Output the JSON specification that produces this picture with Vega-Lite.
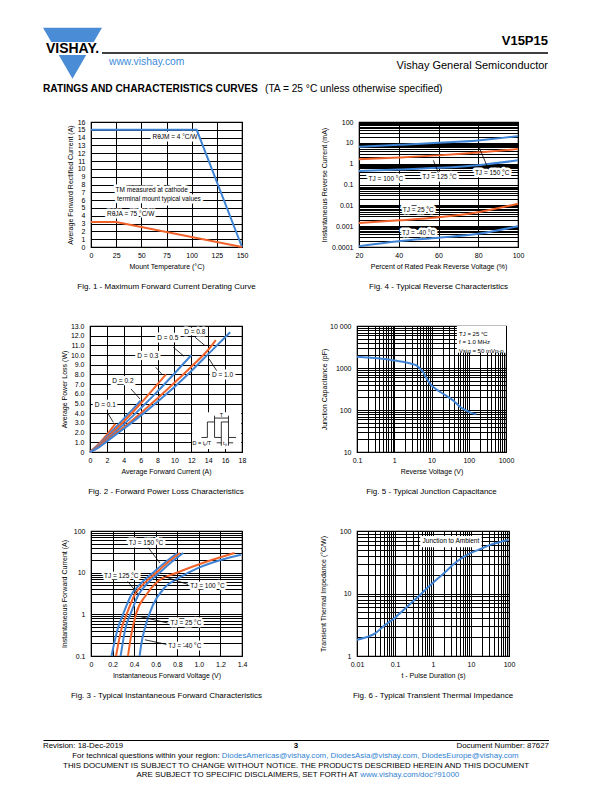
{
"$schema": "https://vega.github.io/schema/vega-lite/v6.json",
"background": "white",
"padding": {"left": 43, "top": 27, "right": 0, "bottom": 0},
"spacing": 23,
"bounds": "full",
"config": {
  "view": {"stroke": null},
  "font": "Liberation Sans",
  "axis": {"labelFont": "Liberation Sans", "titleFont": "Liberation Sans", "labelFontSize": 7, "titleFontSize": 7, "titleFontWeight": "normal", "labelColor": "black", "titleColor": "black", "ticks": false, "domain": false, "grid": true, "gridColor": "black", "gridWidth": 1, "gridOpacity": 1, "labelFlush": false, "labelOverlap": false, "labelBound": false},
  "axisX": {"labelPadding": 4, "titlePadding": 4},
  "axisY": {"labelPadding": 6},
  "title": {"font": "Liberation Sans", "color": "black", "fontWeight": "normal"},
  "text": {"font": "Liberation Sans", "color": "black"}
},
"datasets": {
  "fig1_curves": [
    {"series": "4 °C/W", "x": 0, "y": 15}, {"series": "4 °C/W", "x": 105, "y": 15}, {"series": "4 °C/W", "x": 150, "y": 0},
    {"series": "75 °C/W", "x": 0, "y": 3.2}, {"series": "75 °C/W", "x": 25, "y": 3.2}, {"series": "75 °C/W", "x": 150, "y": 0}
  ],
  "fig1_labels": [
    {"label": "RθJM = 4 °C/W", "x": 83.4, "y": 14.05},
    {"label": "TM measured at cathode", "x": 60.3, "y": 7.3},
    {"label": "terminal mount typical values", "x": 67.5, "y": 6.1},
    {"label": "RθJA = 75 °C/W", "x": 39.4, "y": 4.22}
  ],
  "fig4_curves": [
    {"series": "150", "x": 20, "y": 6.5}, {"series": "150", "x": 40, "y": 8}, {"series": "150", "x": 60, "y": 10}, {"series": "150", "x": 80, "y": 13}, {"series": "150", "x": 100, "y": 21},
    {"series": "125", "x": 20, "y": 1.65}, {"series": "125", "x": 40, "y": 2.0}, {"series": "125", "x": 60, "y": 2.5}, {"series": "125", "x": 80, "y": 3.4}, {"series": "125", "x": 100, "y": 5.0},
    {"series": "100", "x": 20, "y": 0.45}, {"series": "100", "x": 40, "y": 0.52}, {"series": "100", "x": 60, "y": 0.63}, {"series": "100", "x": 80, "y": 0.85}, {"series": "100", "x": 100, "y": 1.45},
    {"series": "25", "x": 20, "y": 0.0014}, {"series": "25", "x": 40, "y": 0.0019}, {"series": "25", "x": 60, "y": 0.0027}, {"series": "25", "x": 80, "y": 0.0047}, {"series": "25", "x": 100, "y": 0.012},
    {"series": "-40", "x": 20, "y": 0.00011}, {"series": "-40", "x": 40, "y": 0.00019}, {"series": "-40", "x": 60, "y": 0.00028}, {"series": "-40", "x": 80, "y": 0.00043}, {"series": "-40", "x": 100, "y": 0.001}
  ],
  "fig4_labels": [
    {"label": "TJ = 100 °C", "x": 33.5, "y": 0.19},
    {"label": "TJ = 125 °C", "x": 60.5, "y": 0.22},
    {"label": "TJ = 150 °C", "x": 87, "y": 0.35},
    {"label": "TJ = 25 °C", "x": 49.8, "y": 0.006},
    {"label": "TJ = -40 °C", "x": 50, "y": 0.00045}
  ],
  "fig4_arrows": [
    {"x": 59.9, "y": 0.37, "x2": 57.4, "y2": 1.44},
    {"x": 85.1, "y": 0.54, "x2": 80.4, "y2": 6.3}
  ],
  "fig2_curves": [
    {"series": "0.1", "x": 0, "y": 0}, {"series": "0.1", "x": 1, "y": 0.8}, {"series": "0.1", "x": 2, "y": 1.8}, {"series": "0.1", "x": 3, "y": 2.9},
    {"series": "0.2", "x": 0, "y": 0}, {"series": "0.2", "x": 1, "y": 0.7}, {"series": "0.2", "x": 2, "y": 1.6}, {"series": "0.2", "x": 3, "y": 2.5}, {"series": "0.2", "x": 4, "y": 3.45}, {"series": "0.2", "x": 5, "y": 4.35}, {"series": "0.2", "x": 6, "y": 5.3},
    {"series": "0.3", "x": 0, "y": 0}, {"series": "0.3", "x": 1, "y": 0.62}, {"series": "0.3", "x": 2, "y": 1.45}, {"series": "0.3", "x": 4, "y": 3.15}, {"series": "0.3", "x": 6, "y": 5.0}, {"series": "0.3", "x": 8, "y": 7.0}, {"series": "0.3", "x": 9, "y": 8.0},
    {"series": "0.5", "x": 0, "y": 0}, {"series": "0.5", "x": 1, "y": 0.55}, {"series": "0.5", "x": 2, "y": 1.3}, {"series": "0.5", "x": 4, "y": 2.85}, {"series": "0.5", "x": 6, "y": 4.5}, {"series": "0.5", "x": 8, "y": 6.25}, {"series": "0.5", "x": 10, "y": 8.1}, {"series": "0.5", "x": 12, "y": 10.0},
    {"series": "0.8", "x": 0, "y": 0}, {"series": "0.8", "x": 1, "y": 0.5}, {"series": "0.8", "x": 2, "y": 1.2}, {"series": "0.8", "x": 4, "y": 2.55}, {"series": "0.8", "x": 6, "y": 4.0}, {"series": "0.8", "x": 8, "y": 5.55}, {"series": "0.8", "x": 10, "y": 7.15}, {"series": "0.8", "x": 12, "y": 8.8}, {"series": "0.8", "x": 14, "y": 10.55}, {"series": "0.8", "x": 14.9, "y": 11.55},
    {"series": "1.0", "x": 0, "y": 0}, {"series": "1.0", "x": 1, "y": 0.45}, {"series": "1.0", "x": 2, "y": 1.1}, {"series": "1.0", "x": 4, "y": 2.4}, {"series": "1.0", "x": 6, "y": 3.75}, {"series": "1.0", "x": 8, "y": 5.2}, {"series": "1.0", "x": 10, "y": 6.7}, {"series": "1.0", "x": 12, "y": 8.35}, {"series": "1.0", "x": 14, "y": 10.1}, {"series": "1.0", "x": 16.6, "y": 12.35}
  ],
  "fig2_labels": [
    {"label": "D = 0.1", "x": 1.8, "y": 4.8},
    {"label": "D = 0.2", "x": 3.9, "y": 7.3},
    {"label": "D = 0.3", "x": 6.85, "y": 9.9},
    {"label": "D = 0.5", "x": 9.2, "y": 11.76},
    {"label": "D = 0.8", "x": 12.4, "y": 12.35},
    {"label": "D = 1.0", "x": 15.7, "y": 7.95}
  ],
  "fig2_arrows": [
    {"x": 2.17, "y": 3.92, "x2": 2.76, "y2": 3.06},
    {"x": 4.86, "y": 6.5, "x2": 5.92, "y2": 5.47},
    {"x": 7.78, "y": 8.74, "x2": 8.49, "y2": 8.05},
    {"x": 9.87, "y": 10.8, "x2": 11.14, "y2": 9.88},
    {"x": 12.44, "y": 11.84, "x2": 13.63, "y2": 10.97},
    {"x": 15.0, "y": 8.39, "x2": 14.1, "y2": 9.6},
    {"x": 14.75, "y": 3.5, "x2": 16.4, "y2": 3.5},
    {"x": 14.75, "y": 3.1, "x2": 14.75, "y2": 3.75},
    {"x": 16.4, "y": 3.1, "x2": 16.4, "y2": 3.75},
    {"x": 15.0, "y": 0.95, "x2": 15.55, "y2": 0.95},
    {"x": 16.95, "y": 0.95, "x2": 16.4, "y2": 0.95},
    {"x": 15.55, "y": 1.5, "x2": 15.55, "y2": 0.65},
    {"x": 16.4, "y": 1.5, "x2": 16.4, "y2": 0.65}
  ],
  "fig2_box": [{"x": 12.1, "y": 0.3, "x2": 17.9, "y2": 4.1}],
  "fig2_wave": [
    {"k": 1, "x": 13.2, "y": 1.5}, {"k": 2, "x": 13.9, "y": 1.5}, {"k": 3, "x": 13.9, "y": 3.1}, {"k": 4, "x": 14.75, "y": 3.1}, {"k": 5, "x": 14.75, "y": 1.5},
    {"k": 6, "x": 15.55, "y": 1.5}, {"k": 7, "x": 15.55, "y": 3.1}, {"k": 8, "x": 16.4, "y": 3.1}, {"k": 9, "x": 16.4, "y": 1.5}, {"k": 10, "x": 17.3, "y": 1.5}
  ],
  "fig2_inset_text": [
    {"label": "T", "x": 15.57, "y": 3.85},
    {"label": "tₚ", "x": 15.97, "y": 0.95},
    {"label": "D = tₚ/T", "x": 13.25, "y": 0.95}
  ],
  "fig5_curve": [
    {"x": 0.1, "y": 1860}, {"x": 0.2, "y": 1780}, {"x": 0.4, "y": 1680}, {"x": 0.63, "y": 1620}, {"x": 1, "y": 1500}, {"x": 2, "y": 1360}, {"x": 3, "y": 1250}, {"x": 4, "y": 1140}, {"x": 5, "y": 950}, {"x": 6, "y": 790}, {"x": 7.4, "y": 560}, {"x": 9.2, "y": 420}, {"x": 13.8, "y": 305}, {"x": 21, "y": 240}, {"x": 39, "y": 166}, {"x": 58, "y": 120}, {"x": 89, "y": 95}, {"x": 133, "y": 82}, {"x": 160, "y": 80}
  ],
  "fig5_box": [{"x": 48, "y": 2300, "x2": 1000, "y2": 10000}],
  "fig5_text": [
    {"label": "TJ = 25 °C", "x": 55, "y": 6450},
    {"label": "f = 1.0 MHz", "x": 55, "y": 4100},
    {"label": "Vsig = 50 mVp-p", "x": 55, "y": 2580}
  ],
  "fig3_curves": [
    {"series": "150", "x": 0.19, "y": 0.1}, {"series": "150", "x": 0.25, "y": 0.47}, {"series": "150", "x": 0.297, "y": 1.0}, {"series": "150", "x": 0.374, "y": 2.96}, {"series": "150", "x": 0.466, "y": 5.6}, {"series": "150", "x": 0.575, "y": 10}, {"series": "150", "x": 0.70, "y": 18.7}, {"series": "150", "x": 0.80, "y": 29.6},
    {"series": "125", "x": 0.232, "y": 0.1}, {"series": "125", "x": 0.285, "y": 0.47}, {"series": "125", "x": 0.33, "y": 1.0}, {"series": "125", "x": 0.405, "y": 2.96}, {"series": "125", "x": 0.495, "y": 5.6}, {"series": "125", "x": 0.605, "y": 10}, {"series": "125", "x": 0.725, "y": 18.7}, {"series": "125", "x": 0.825, "y": 29.6},
    {"series": "100", "x": 0.275, "y": 0.1}, {"series": "100", "x": 0.32, "y": 0.47}, {"series": "100", "x": 0.365, "y": 1.0}, {"series": "100", "x": 0.44, "y": 2.96}, {"series": "100", "x": 0.525, "y": 5.6}, {"series": "100", "x": 0.635, "y": 10}, {"series": "100", "x": 0.755, "y": 18.7}, {"series": "100", "x": 0.855, "y": 29.6},
    {"series": "25", "x": 0.343, "y": 0.1}, {"series": "25", "x": 0.374, "y": 0.33}, {"series": "25", "x": 0.42, "y": 1.07}, {"series": "25", "x": 0.513, "y": 2.96}, {"series": "25", "x": 0.62, "y": 6.2}, {"series": "25", "x": 0.79, "y": 9.8}, {"series": "25", "x": 0.99, "y": 15.5}, {"series": "25", "x": 1.33, "y": 29.6},
    {"series": "-40", "x": 0.451, "y": 0.1}, {"series": "-40", "x": 0.466, "y": 0.19}, {"series": "-40", "x": 0.50, "y": 0.47}, {"series": "-40", "x": 0.575, "y": 1.7}, {"series": "-40", "x": 0.68, "y": 4.3}, {"series": "-40", "x": 0.81, "y": 7.4}, {"series": "-40", "x": 0.99, "y": 12.9}, {"series": "-40", "x": 1.21, "y": 20.5}, {"series": "-40", "x": 1.39, "y": 27}
  ],
  "fig3_labels": [
    {"label": "TJ = 150 °C", "x": 0.51, "y": 51},
    {"label": "TJ = 125 °C", "x": 0.28, "y": 8.2},
    {"label": "TJ = 100 °C", "x": 1.08, "y": 4.7},
    {"label": "TJ = 25 °C", "x": 0.88, "y": 0.62},
    {"label": "TJ = -40 °C", "x": 0.87, "y": 0.17}
  ],
  "fig3_arrows": [
    {"x": 0.53, "y": 40, "x2": 0.64, "y2": 17},
    {"x": 0.34, "y": 6.2, "x2": 0.44, "y2": 2.96},
    {"x": 0.90, "y": 5.2, "x2": 0.67, "y2": 8.2},
    {"x": 0.71, "y": 0.62, "x2": 0.45, "y2": 0.89},
    {"x": 0.70, "y": 0.19, "x2": 0.50, "y2": 0.245}
  ],
  "fig6_curve": [
    {"x": 0.01, "y": 1.82}, {"x": 0.02, "y": 2.05}, {"x": 0.03, "y": 2.3}, {"x": 0.05, "y": 3.0}, {"x": 0.1, "y": 4.1}, {"x": 0.2, "y": 6.0}, {"x": 0.3, "y": 7.5}, {"x": 0.5, "y": 10}, {"x": 1, "y": 14.8}, {"x": 2, "y": 21.5}, {"x": 3.4, "y": 29}, {"x": 5, "y": 35}, {"x": 9.4, "y": 44}, {"x": 20, "y": 53}, {"x": 32, "y": 60}, {"x": 60, "y": 67}, {"x": 96, "y": 72}
  ],
  "fig6_box": [{"x": 0.46, "y": 55, "x2": 19, "y2": 83}],
  "fig6_text": [{"label": "Junction to Ambient", "x": 2.96, "y": 69}]
},
"vconcat": [
  {
    "hconcat": [
      {
        "width": 59, "height": 41,
        "title": {"text": "RATINGS AND CHARACTERISTICS CURVES", "orient": "bottom", "anchor": "start", "frame": "group", "fontSize": 10.2, "fontWeight": "bold", "offset": 5},
        "data": {"values": [{"name": "VISHAY."}]},
        "layer": [
          {"mark": {"type": "point", "shape": "M-1,-0.706L1,-0.706L0.719,-0.22L-0.719,-0.22ZM-0.465,0.22L0.465,0.22L0,1.026Z", "size": 3481, "filled": true, "color": "#4a8cd6", "opacity": 1, "strokeWidth": 0}, "encoding": {}},
          {"mark": {"type": "text", "fontSize": 14, "fontWeight": "bold", "color": "black", "baseline": "middle", "align": "center"}, "encoding": {"text": {"field": "name"}}}
        ]
      },
      {
        "width": 446, "height": 50,
        "title": {"text": "(TA = 25 °C unless otherwise specified)", "orient": "bottom", "anchor": "start", "frame": "group", "fontSize": 10.2, "fontWeight": "normal", "offset": 5.5, "dx": 163},
        "data": {"values": [
          {"slot": "a", "side": "right", "kind": "part", "text": "V15P15"},
          {"slot": "b", "side": "left", "kind": "rule", "text": ""},
          {"slot": "c", "side": "left", "kind": "url", "text": "www.vishay.com"},
          {"slot": "c", "side": "right", "kind": "division", "text": "Vishay General Semiconductor"}
        ]},
        "encoding": {"y": {"field": "slot", "type": "ordinal", "scale": {"type": "point", "domain": ["a", "b", "c"], "padding": 1.413}, "axis": null}},
        "layer": [
          {"transform": [{"filter": "datum.kind == 'rule'"}], "mark": {"type": "rule", "color": "black", "strokeWidth": 1.3}, "encoding": {}},
          {"transform": [{"filter": "datum.kind == 'part'"}], "mark": {"type": "text", "align": "right", "baseline": "middle", "fontSize": 13, "fontWeight": "bold", "color": "black"},
           "encoding": {"x": {"field": "side", "type": "nominal", "scale": {"type": "point", "domain": ["left", "right"], "padding": 0}, "axis": null}, "text": {"field": "text"}}},
          {"transform": [{"filter": "datum.kind == 'url'"}], "mark": {"type": "text", "align": "left", "baseline": "middle", "fontSize": 10.3, "color": "#3a8bd8", "dx": 7, "dy": -3.5},
           "encoding": {"x": {"field": "side", "type": "nominal", "scale": {"type": "point", "domain": ["left", "right"], "padding": 0}, "axis": null}, "text": {"field": "text"}}},
          {"transform": [{"filter": "datum.kind == 'division'"}], "mark": {"type": "text", "align": "right", "baseline": "middle", "fontSize": 11, "color": "black"},
           "encoding": {"x": {"field": "side", "type": "nominal", "scale": {"type": "point", "domain": ["left", "right"], "padding": 0}, "axis": null}, "text": {"field": "text"}}}
        ]
      }
    ],
    "spacing": 0,
    "bounds": "flush"
  },
  {
    "hconcat": [
      {"width": 48, "height": 176, "data": {"values": []}, "mark": "point"},
      {
        "width": 151, "height": 125,
        "view": {"stroke": "black", "strokeWidth": 1.2},
        "title": {"text": "Fig. 1 -  Maximum Forward Current Derating Curve", "orient": "bottom", "anchor": "middle", "frame": "group", "fontSize": 8, "fontWeight": "normal", "offset": 14},
        "encoding": {
          "x": {"field": "x", "type": "quantitative", "scale": {"domain": [0, 150], "nice": false}, "axis": {"values": [0, 25, 50, 75, 100, 125, 150], "title": "Mount Temperature (°C)"}},
          "y": {"field": "y", "type": "quantitative", "scale": {"domain": [0, 16], "nice": false}, "axis": {"values": [0, 1, 2, 3, 4, 5, 6, 7, 8, 9, 10, 11, 12, 13, 14, 15, 16], "title": "Average Forward Rectified Current (A)", "titlePadding": 4}}
        },
        "layer": [
          {"data": {"name": "fig1_labels"}, "mark": {"type": "text", "fontSize": 6.5, "color": "white", "stroke": "white", "strokeWidth": 5, "strokeJoin": "round", "baseline": "middle"}, "encoding": {"text": {"field": "label"}}},
          {"data": {"name": "fig1_curves"}, "mark": {"type": "line", "strokeWidth": 2}, "encoding": {"color": {"field": "series", "type": "nominal", "scale": {"domain": ["4 °C/W", "75 °C/W"], "range": ["#3f83d4", "#f0622a"]}, "legend": null}}},
          {"data": {"name": "fig1_labels"}, "mark": {"type": "text", "fontSize": 6.5, "color": "black", "baseline": "middle"}, "encoding": {"text": {"field": "label"}}}
        ]
      },
      {"width": 117, "height": 125, "data": {"values": []}, "mark": "point"},
      {
        "width": 159, "height": 125,
        "view": {"stroke": "black", "strokeWidth": 1.2},
        "title": {"text": "Fig. 4 - Typical Reverse Characteristics", "orient": "bottom", "anchor": "middle", "frame": "group", "fontSize": 8, "fontWeight": "normal", "offset": 14},
        "encoding": {
          "x": {"field": "x", "type": "quantitative", "scale": {"domain": [20, 100], "nice": false, "zero": false}, "axis": {"values": [20, 40, 60, 80, 100], "title": "Percent of Rated Peak Reverse Voltage (%)"}},
          "y": {"field": "y", "type": "quantitative", "scale": {"type": "log", "domain": [0.0001, 100], "nice": false}, "axis": {"values": [0.0001, 0.0002, 0.0003, 0.0004, 0.0005, 0.0006, 0.0007, 0.0008, 0.0009, 0.001, 0.002, 0.003, 0.004, 0.005, 0.006, 0.007, 0.008, 0.009, 0.01, 0.02, 0.03, 0.04, 0.05, 0.06, 0.07, 0.08, 0.09, 0.1, 0.2, 0.3, 0.4, 0.5, 0.6, 0.7, 0.8, 0.9, 1, 2, 3, 4, 5, 6, 7, 8, 9, 10, 20, 30, 40, 50, 60, 70, 80, 90, 100], "labelExpr": "indexof([0.0001, 0.001, 0.01, 0.1, 1, 10, 100], datum.value) >= 0 ? format(datum.value, '~g') : ''", "title": "Instantaneous  Reverse Current (mA)", "titlePadding": 4}}
        },
        "layer": [
          {"data": {"name": "fig4_labels"}, "mark": {"type": "text", "fontSize": 6.5, "color": "white", "stroke": "white", "strokeWidth": 5, "strokeJoin": "round", "baseline": "middle"}, "encoding": {"text": {"field": "label"}}},
          {"data": {"name": "fig4_curves"}, "mark": {"type": "line", "strokeWidth": 2, "interpolate": "monotone"}, "encoding": {"color": {"field": "series", "type": "nominal", "scale": {"domain": ["150", "125", "100", "25", "-40"], "range": ["#f5b700", "#e8211f", "#4db34a", "#f0622a", "#3f83d4"]}, "legend": null}}},
          {"data": {"name": "fig4_arrows"}, "mark": {"type": "rule", "color": "black", "strokeWidth": 0.8}, "encoding": {"x2": {"field": "x2"}, "y2": {"field": "y2"}}},
          {"data": {"name": "fig4_labels"}, "mark": {"type": "text", "fontSize": 6.5, "color": "black", "baseline": "middle"}, "encoding": {"text": {"field": "label"}}}
        ]
      }
    ],
    "spacing": 0,
    "bounds": "flush"
  },
  {
    "hconcat": [
      {"width": 47, "height": 177, "data": {"values": []}, "mark": "point"},
      {
        "width": 152, "height": 126,
        "view": {"stroke": "black", "strokeWidth": 1.2},
        "title": {"text": "Fig. 2 - Forward Power Loss Characteristics", "orient": "bottom", "anchor": "middle", "frame": "group", "fontSize": 8, "fontWeight": "normal", "offset": 14},
        "encoding": {
          "x": {"field": "x", "type": "quantitative", "scale": {"domain": [0, 18], "nice": false}, "axis": {"values": [0, 2, 4, 6, 8, 10, 12, 14, 16, 18], "title": "Average Forward Current (A)"}},
          "y": {"field": "y", "type": "quantitative", "scale": {"domain": [0, 13], "nice": false}, "axis": {"values": [0, 1, 2, 3, 4, 5, 6, 7, 8, 9, 10, 11, 12, 13], "labelExpr": "datum.value == 0 ? '0' : format(datum.value, '.1f')", "title": "Average Power Loss (W)", "titlePadding": 3}}
        },
        "layer": [
          {"data": {"name": "fig2_labels"}, "mark": {"type": "text", "fontSize": 6.5, "color": "white", "stroke": "white", "strokeWidth": 5, "strokeJoin": "round", "baseline": "middle"}, "encoding": {"text": {"field": "label"}}},
          {"data": {"name": "fig2_box"}, "mark": {"type": "rect", "color": "white"}, "encoding": {"x2": {"field": "x2"}, "y2": {"field": "y2"}}},
          {"data": {"name": "fig2_curves"}, "mark": {"type": "line", "strokeWidth": 2, "interpolate": "monotone"}, "encoding": {"color": {"field": "series", "type": "nominal", "scale": {"domain": ["0.1", "0.2", "0.3", "0.5", "0.8", "1.0"], "range": ["#f26a21", "#4cb848", "#ee2a2a", "#fdb913", "#2f4fa2", "#4a8fdc"]}, "legend": null}}},
          {"data": {"name": "fig2_wave"}, "mark": {"type": "line", "strokeWidth": 0.8, "color": "black"}, "encoding": {"order": {"field": "k", "type": "quantitative"}}},
          {"data": {"name": "fig2_arrows"}, "mark": {"type": "rule", "color": "black", "strokeWidth": 0.8}, "encoding": {"x2": {"field": "x2"}, "y2": {"field": "y2"}}},
          {"data": {"name": "fig2_labels"}, "mark": {"type": "text", "fontSize": 6.5, "color": "black", "baseline": "middle"}, "encoding": {"text": {"field": "label"}}},
          {"data": {"name": "fig2_inset_text"}, "mark": {"type": "text", "fontSize": 5.5, "color": "black", "baseline": "middle"}, "encoding": {"text": {"field": "label"}}}
        ]
      },
      {"width": 115, "height": 126, "data": {"values": []}, "mark": "point"},
      {
        "width": 149, "height": 126,
        "view": {"stroke": "black", "strokeWidth": 1.2},
        "title": {"text": "Fig. 5 - Typical Junction Capacitance", "orient": "bottom", "anchor": "middle", "frame": "group", "fontSize": 8, "fontWeight": "normal", "offset": 14},
        "encoding": {
          "x": {"field": "x", "type": "quantitative", "scale": {"type": "log", "domain": [0.1, 1000], "nice": false}, "axis": {"values": [0.1, 0.2, 0.3, 0.4, 0.5, 0.6, 0.7, 0.8, 0.9, 1, 2, 3, 4, 5, 6, 7, 8, 9, 10, 20, 30, 40, 50, 60, 70, 80, 90, 100, 200, 300, 400, 500, 600, 700, 800, 900, 1000], "labelExpr": "indexof([0.1, 1, 10, 100, 1000], datum.value) >= 0 ? format(datum.value, '~g') : ''", "title": "Reverse Voltage (V)"}},
          "y": {"field": "y", "type": "quantitative", "scale": {"type": "log", "domain": [10, 10000], "nice": false}, "axis": {"values": [10, 20, 30, 40, 50, 60, 70, 80, 90, 100, 200, 300, 400, 500, 600, 700, 800, 900, 1000, 2000, 3000, 4000, 5000, 6000, 7000, 8000, 9000, 10000], "labelExpr": "datum.value == 10000 ? '10 000' : indexof([10, 100, 1000], datum.value) >= 0 ? format(datum.value, '~g') : ''", "title": "Junction Capacitance (pF)", "titlePadding": 2}}
        },
        "layer": [
          {"data": {"name": "fig5_box"}, "mark": {"type": "rect", "color": "white"}, "encoding": {"x2": {"field": "x2"}, "y2": {"field": "y2"}}},
          {"data": {"name": "fig5_curve"}, "mark": {"type": "line", "strokeWidth": 2, "color": "#3f83d4", "interpolate": "monotone"}, "encoding": {}},
          {"data": {"name": "fig5_text"}, "mark": {"type": "text", "fontSize": 6, "color": "black", "baseline": "middle", "align": "left"}, "encoding": {"text": {"field": "label"}}}
        ]
      }
    ],
    "spacing": 0,
    "bounds": "flush"
  },
  {
    "hconcat": [
      {"width": 48, "height": 186, "data": {"values": []}, "mark": "point"},
      {
        "width": 151, "height": 125,
        "view": {"stroke": "black", "strokeWidth": 1.2},
        "title": {"text": "Fig. 3 - Typical Instantaneous Forward Characteristics", "orient": "bottom", "anchor": "middle", "frame": "group", "fontSize": 8, "fontWeight": "normal", "offset": 14},
        "encoding": {
          "x": {"field": "x", "type": "quantitative", "scale": {"domain": [0, 1.4], "nice": false}, "axis": {"values": [0, 0.2, 0.4, 0.6, 0.8, 1.0, 1.2, 1.4], "labelExpr": "datum.value == 0 ? '0' : format(datum.value, '.1f')", "title": "Instantaneous Forward Voltage (V)"}},
          "y": {"field": "y", "type": "quantitative", "scale": {"type": "log", "domain": [0.1, 100], "nice": false}, "axis": {"values": [0.1, 0.2, 0.3, 0.4, 0.5, 0.6, 0.7, 0.8, 0.9, 1, 2, 3, 4, 5, 6, 7, 8, 9, 10, 20, 30, 40, 50, 60, 70, 80, 90, 100], "labelExpr": "indexof([0.1, 1, 10, 100], datum.value) >= 0 ? format(datum.value, '~g') : ''", "title": "Instantaneous Forward Current (A)", "titlePadding": 6}}
        },
        "layer": [
          {"data": {"name": "fig3_labels"}, "mark": {"type": "text", "fontSize": 6.5, "color": "white", "stroke": "white", "strokeWidth": 5, "strokeJoin": "round", "baseline": "middle"}, "encoding": {"text": {"field": "label"}}},
          {"data": {"name": "fig3_curves"}, "mark": {"type": "line", "strokeWidth": 2, "interpolate": "monotone"}, "encoding": {"color": {"field": "series", "type": "nominal", "scale": {"domain": ["150", "125", "100", "25", "-40"], "range": ["#f5b700", "#e8211f", "#4db34a", "#f0622a", "#3f83d4"]}, "legend": null}}},
          {"data": {"name": "fig3_arrows"}, "mark": {"type": "rule", "color": "black", "strokeWidth": 0.8}, "encoding": {"x2": {"field": "x2"}, "y2": {"field": "y2"}}},
          {"data": {"name": "fig3_labels"}, "mark": {"type": "text", "fontSize": 6.5, "color": "black", "baseline": "middle"}, "encoding": {"text": {"field": "label"}}}
        ]
      },
      {"width": 115, "height": 125, "data": {"values": []}, "mark": "point"},
      {
        "width": 152, "height": 125,
        "view": {"stroke": "black", "strokeWidth": 1.2},
        "title": {"text": "Fig. 6 - Typical Transient Thermal Impedance", "orient": "bottom", "anchor": "middle", "frame": "group", "fontSize": 8, "fontWeight": "normal", "offset": 14},
        "encoding": {
          "x": {"field": "x", "type": "quantitative", "scale": {"type": "log", "domain": [0.01, 100], "nice": false}, "axis": {"values": [0.01, 0.02, 0.03, 0.04, 0.05, 0.06, 0.07, 0.08, 0.09, 0.1, 0.2, 0.3, 0.4, 0.5, 0.6, 0.7, 0.8, 0.9, 1, 2, 3, 4, 5, 6, 7, 8, 9, 10, 20, 30, 40, 50, 60, 70, 80, 90, 100], "labelExpr": "indexof([0.01, 0.1, 1, 10, 100], datum.value) >= 0 ? format(datum.value, '~g') : ''", "title": "t - Pulse Duration (s)"}},
          "y": {"field": "y", "type": "quantitative", "scale": {"type": "log", "domain": [1, 100], "nice": false}, "axis": {"values": [1, 2, 3, 4, 5, 6, 7, 8, 9, 10, 20, 30, 40, 50, 60, 70, 80, 90, 100], "labelExpr": "indexof([1, 10, 100], datum.value) >= 0 ? format(datum.value, '~g') : ''", "title": "Transient Thermal Impedance (°C/W)", "titlePadding": 13}}
        },
        "layer": [
          {"data": {"name": "fig6_box"}, "mark": {"type": "rect", "color": "white"}, "encoding": {"x2": {"field": "x2"}, "y2": {"field": "y2"}}},
          {"data": {"name": "fig6_curve"}, "mark": {"type": "line", "strokeWidth": 2, "color": "#3f83d4", "interpolate": "monotone"}, "encoding": {}},
          {"data": {"name": "fig6_text"}, "mark": {"type": "text", "fontSize": 6.5, "color": "black", "baseline": "middle"}, "encoding": {"text": {"field": "label"}}}
        ]
      }
    ],
    "spacing": 0,
    "bounds": "flush"
  },
  {
    "width": 506, "height": 41.4,
    "data": {"values": [
      {"line": "1", "pos": "left", "kind": "left", "text": "Revision: 18-Dec-2019"},
      {"line": "1", "pos": "center", "kind": "page", "text": "3"},
      {"line": "1", "pos": "right", "kind": "right", "text": "Document Number: 87627"},
      {"line": "2", "pos": "left", "kind": "l2lead", "text": "For technical questions within your region:"},
      {"line": "2", "pos": "left", "kind": "l2link", "text": "DiodesAmericas@vishay.com, DiodesAsia@vishay.com, DiodesEurope@vishay.com"},
      {"line": "3", "pos": "center", "kind": "center", "text": "THIS DOCUMENT IS SUBJECT TO CHANGE WITHOUT NOTICE. THE PRODUCTS DESCRIBED HEREIN AND THIS DOCUMENT"},
      {"line": "4", "pos": "left", "kind": "l4lead", "text": "ARE SUBJECT TO SPECIFIC DISCLAIMERS, SET FORTH AT"},
      {"line": "4", "pos": "left", "kind": "l4link", "text": "www.vishay.com/doc?91000"}
    ]},
    "encoding": {
      "x": {"field": "pos", "type": "nominal", "scale": {"type": "point", "domain": ["left", "center", "right"], "padding": 0}, "axis": {"orient": "top", "domain": true, "domainColor": "black", "domainWidth": 1, "labels": false, "ticks": false, "grid": false, "title": null}},
      "y": {"field": "line", "type": "ordinal", "scale": {"type": "point", "domain": ["1", "2", "3", "4"], "padding": 0.612}, "axis": null},
      "text": {"field": "text"}
    },
    "layer": [
      {"transform": [{"filter": "datum.kind == 'left'"}], "mark": {"type": "text", "align": "left", "baseline": "middle", "fontSize": 7.9, "fontWeight": "normal", "color": "black"}},
      {"transform": [{"filter": "datum.kind == 'page'"}], "mark": {"type": "text", "align": "center", "baseline": "middle", "fontSize": 7.9, "fontWeight": "bold", "color": "black"}},
      {"transform": [{"filter": "datum.kind == 'right'"}], "mark": {"type": "text", "align": "right", "baseline": "middle", "fontSize": 7.9, "fontWeight": "normal", "color": "black"}},
      {"transform": [{"filter": "datum.kind == 'center'"}], "mark": {"type": "text", "align": "center", "baseline": "middle", "fontSize": 7.9, "fontWeight": "normal", "color": "black"}},
      {"transform": [{"filter": "datum.kind == 'l2lead'"}], "mark": {"type": "text", "align": "right", "baseline": "middle", "fontSize": 7.9, "fontWeight": "normal", "color": "black", "dx": 176.6}},
      {"transform": [{"filter": "datum.kind == 'l2link'"}], "mark": {"type": "text", "align": "left", "baseline": "middle", "fontSize": 7.9, "fontWeight": "normal", "color": "#2f7fd1", "dx": 178.8}},
      {"transform": [{"filter": "datum.kind == 'l4lead'"}], "mark": {"type": "text", "align": "right", "baseline": "middle", "fontSize": 7.9, "fontWeight": "normal", "color": "black", "dx": 315}},
      {"transform": [{"filter": "datum.kind == 'l4link'"}], "mark": {"type": "text", "align": "left", "baseline": "middle", "fontSize": 7.9, "fontWeight": "normal", "color": "#2f7fd1", "dx": 317.2}}
    ]
  }
]
}
